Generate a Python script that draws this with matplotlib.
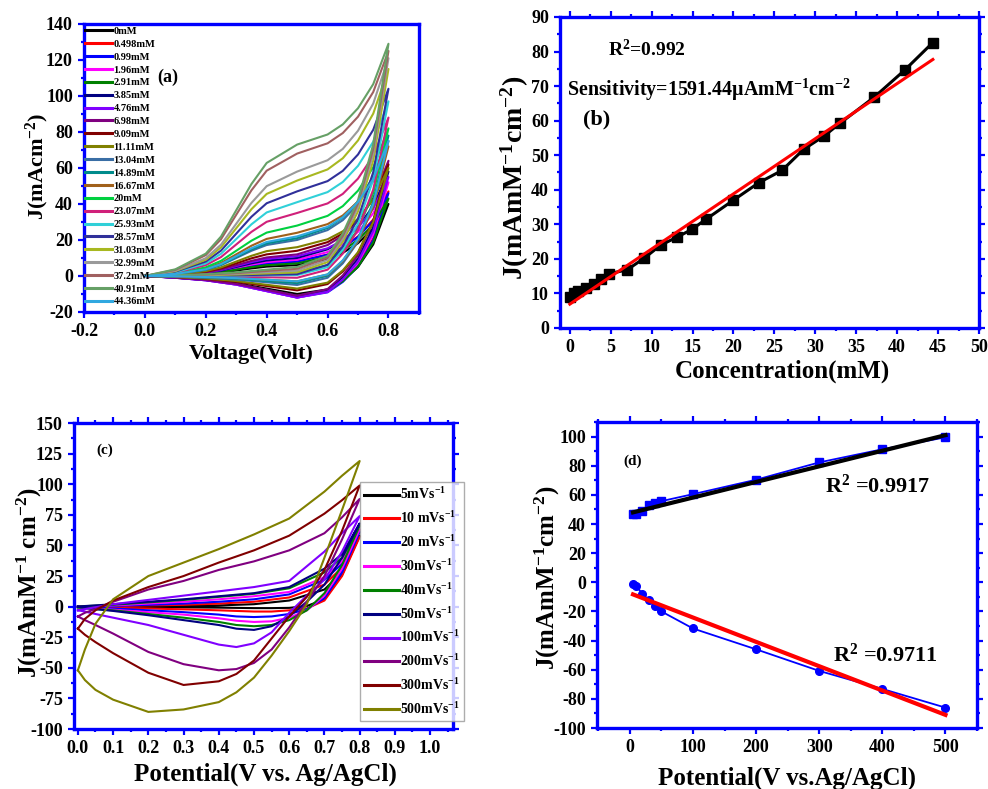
import matplotlib
matplotlib.use("Agg")
import matplotlib.pyplot as plt
from matplotlib.ticker import MultipleLocator

plt.rcParams["font.family"] = ["Liberation Serif", "DejaVu Serif"]
plt.rcParams["font.weight"] = "bold"
plt.rcParams["mathtext.default"] = "regular"
plt.rcParams["axes.unicode_minus"] = False

# ---------------------------------------------------------------------------
# (a) CV curves at different glucose concentrations
# ---------------------------------------------------------------------------
CONC_LABELS = ["0mM", "0.498mM", "0.99mM", "1.96mM", "2.91mM", "3.85mM", "4.76mM",
               "6.98mM", "9.09mM", "11.11mM", "13.04mM", "14.89mM", "16.67mM", "20mM",
               "23.07mM", "25.93mM", "28.57mM", "31.03mM", "32.99mM", "37.2mM",
               "40.91mM", "44.36mM"]
CONC_COLORS = ["#000000", "#ff0000", "#0000ff", "#ff00ff", "#008000", "#000080",
               "#8000ff", "#800080", "#800000", "#808000", "#3a6ea5", "#008b8b",
               "#a0601a", "#00d040", "#d0207a", "#30d0d8", "#30309a", "#a8b820",
               "#9a9a9a", "#a06060", "#66a066", "#30a8e0"]

A_V_FWD = [0, 0.1, 0.2, 0.25, 0.3, 0.35, 0.4, 0.5, 0.6, 0.65, 0.7, 0.75, 0.8]
A_V_REV = [0.8, 0.75, 0.7, 0.65, 0.6, 0.5, 0.4, 0.3, 0.2, 0.1, 0]

A_J_FWD = [
    [0, 0.3, 1.0, 1.8, 3.0, 4.2, 5.2, 6, 9.4, 12.8, 18.2, 26.4, 40],
    [0, 0.4, 1.4, 2.4, 4.0, 5.6, 6.9, 8, 11.9, 15.8, 22.0, 31.4, 47],
    [0, 0.4, 1.4, 2.4, 4.0, 5.6, 6.9, 8, 11.8, 15.6, 21.7, 30.8, 46],
    [0, 0.5, 1.5, 2.7, 4.5, 6.3, 7.7, 9, 13.3, 17.6, 24.5, 34.8, 52],
    [0, 0.4, 1.2, 2.1, 3.5, 4.9, 6.0, 7, 10.6, 14.2, 20.0, 28.6, 43],
    [0, 0.5, 1.7, 3.0, 5.0, 7.0, 8.6, 10, 14.8, 19.6, 27.3, 38.8, 58],
    [0, 0.6, 1.9, 3.3, 5.5, 7.7, 9.5, 11, 15.4, 19.8, 26.8, 37.4, 55],
    [0, 0.6, 2.0, 3.6, 6.0, 8.4, 10.3, 12, 17.2, 22.4, 30.7, 43.2, 64],
    [0, 0.7, 2.4, 4.2, 7.0, 9.8, 12.0, 14, 18.8, 23.6, 31.3, 42.8, 62],
    [0, 0.8, 2.7, 4.8, 8.0, 11.2, 13.8, 16, 20.4, 24.8, 31.8, 42.4, 60],
    [0, 1.0, 3.4, 6.0, 10.0, 14.0, 17.2, 20, 25.5, 31.0, 39.8, 53.0, 75],
    [0, 1.0, 3.6, 6.3, 10.5, 14.7, 18.1, 21, 26.7, 32.4, 41.5, 55.2, 78],
    [0, 1.2, 4.1, 7.2, 12.0, 16.8, 20.6, 24, 28.8, 33.6, 41.3, 52.8, 72],
    [0, 1.4, 4.8, 8.4, 14.0, 19.6, 24.1, 28, 33.4, 38.8, 47.4, 60.4, 82],
    [0, 1.8, 6.0, 10.5, 17.5, 24.5, 30.1, 35, 40.3, 45.6, 54.1, 66.8, 88],
    [0, 2.0, 7.0, 12.3, 20.5, 28.7, 35.3, 41, 46.6, 52.2, 61.2, 74.6, 97],
    [0, 2.4, 8.0, 14.1, 23.5, 32.9, 40.4, 47, 52.7, 58.4, 67.5, 81.2, 104],
    [0, 2.7, 9.0, 15.9, 26.5, 37.1, 45.6, 53, 59.2, 65.4, 75.3, 90.2, 115],
    [0, 2.9, 9.9, 17.4, 29.0, 40.6, 49.9, 58, 64.3, 70.6, 80.7, 95.8, 121],
    [0, 3.4, 11.6, 20.4, 34.0, 47.6, 58.5, 68, 73.7, 79.4, 88.5, 102.2, 125],
    [0, 3.7, 12.4, 21.9, 36.5, 51.1, 62.8, 73, 78.6, 84.2, 93.2, 106.6, 129],
    [0, 1.1, 3.7, 6.6, 11.0, 15.4, 18.9, 22, 27.3, 32.6, 41.1, 53.8, 75],
]
A_J_REV = [
    [40, 17.5, 5.0, -2.5, -7.5, -10, -7.0, -4.0, -2.0, -0.8, 0],
    [47, 20.9, 6.4, -2.3, -8.1, -11, -7.7, -4.4, -2.2, -0.9, 0],
    [46, 19.9, 5.4, -3.3, -9.1, -12, -8.4, -4.8, -2.4, -1.0, 0],
    [52, 23.2, 7.2, -2.4, -8.8, -12, -8.4, -4.8, -2.4, -1.0, 0],
    [43, 18.7, 5.2, -2.9, -8.3, -11, -7.7, -4.4, -2.2, -0.9, 0],
    [58, 27.0, 9.7, -0.7, -7.6, -11, -7.7, -4.4, -2.2, -0.9, 0],
    [55, 24.9, 8.1, -2.0, -8.7, -12, -8.4, -4.8, -2.4, -1.0, 0],
    [64, 30.3, 11.5, 0.3, -7.3, -11, -7.7, -4.4, -2.2, -0.9, 0],
    [62, 30.5, 13.0, 2.5, -4.5, -8, -5.6, -3.2, -1.6, -0.6, 0],
    [60, 29.9, 13.1, 3.1, -3.7, -7, -4.9, -2.8, -1.4, -0.6, 0],
    [75, 39.0, 19.0, 7.0, -1.0, -5, -3.5, -2.0, -1.0, -0.4, 0],
    [78, 41.1, 20.6, 8.3, 0.1, -4, -2.8, -1.6, -0.8, -0.3, 0],
    [72, 38.3, 19.5, 8.3, 0.8, -3, -2.1, -1.2, -0.6, -0.2, 0],
    [82, 46.0, 26.0, 14.0, 6.0, 2, 1.4, 0.8, 0.4, 0.2, 0],
    [88, 48.0, 25.7, 12.4, 3.5, -1, -0.7, -0.4, -0.2, -0.1, 0],
    [97, 53.4, 29.1, 14.6, 4.9, 0.5, 0.4, 0.2, 0.1, 0.0, 0],
    [104, 57.7, 31.9, 16.5, 6.2, 1, 0.7, 0.4, 0.2, 0.1, 0],
    [115, 64.2, 35.9, 19.0, 7.7, 2, 1.4, 0.8, 0.4, 0.2, 0],
    [121, 67.9, 38.4, 20.7, 8.9, 3, 2.1, 1.2, 0.6, 0.2, 0],
    [125, 70.6, 40.3, 22.2, 10.1, 4, 2.8, 1.6, 0.8, 0.3, 0],
    [129, 73.2, 42.2, 23.6, 11.2, 5, 3.5, 2.0, 1.0, 0.4, 0],
    [75, 39.9, 20.4, 8.7, 0.9, -3, -2.1, -1.2, -0.6, -0.2, 0],
]

# ---------------------------------------------------------------------------
# (b) calibration
# ---------------------------------------------------------------------------
B_CONC = [0, 0.498, 0.99, 1.96, 2.91, 3.85, 4.76, 6.98, 9.09, 11.11, 13.04, 14.89,
          16.67, 20, 23.07, 25.93, 28.57, 31.03, 32.99, 37.2, 40.91, 44.36]
B_J = [9.0, 10.0, 10.6, 11.6, 12.6, 14.2, 15.7, 16.8, 20.2, 24.0, 26.2, 28.5,
       31.5, 37.0, 42.0, 45.6, 51.7, 55.5, 59.2, 66.8, 74.6, 82.6]
B_FIT_X = [0, 44.36]
B_FIT_Y = [6.9, 77.7]

# ---------------------------------------------------------------------------
# (c) CV curves at different scan rates
# ---------------------------------------------------------------------------
SCAN_LABELS = ["5mVs$^{-1}$", "10 mVs$^{-1}$", "20 mVs$^{-1}$", "30mVs$^{-1}$",
               "40mVs$^{-1}$", "50mVs$^{-1}$", "100mVs$^{-1}$", "200mVs$^{-1}$",
               "300mVs$^{-1}$", "500mVs$^{-1}$"]
SCAN_COLORS = ["#000000", "#ff0000", "#0000ff", "#ff00ff", "#008000", "#000080",
               "#8000ff", "#800080", "#800000", "#808000"]

C_V_FWD = [0, 0.02, 0.05, 0.1, 0.2, 0.3, 0.4, 0.5, 0.6, 0.7, 0.75, 0.8]
C_V_REV = [0.8, 0.75, 0.7, 0.65, 0.6, 0.55, 0.5, 0.45, 0.4, 0.3, 0.2, 0.1, 0.05, 0.02, 0]

C_J_FWD = [
    [0, 0, 0, 0, 0.3, 0.5, 1.0, 2.0, 5.0, 14, 28, 58],
    [0, 0.1, 0.2, 0.3, 1.0, 1.5, 2.5, 4.0, 7.5, 18, 32, 57],
    [0, 0.2, 0.4, 0.6, 1.5, 2.5, 4.0, 6.0, 10, 22, 35, 61],
    [0, 0.3, 0.6, 1.0, 2.5, 4.0, 6.0, 8.5, 12, 24, 37, 63],
    [0, 0.4, 0.8, 1.5, 3.5, 5.5, 8.0, 10.5, 15, 28, 40, 66],
    [0, 0.5, 1.0, 2.0, 4.0, 6.0, 8.5, 11, 16, 31, 43, 68],
    [-3, -2, -0.5, 2, 5.5, 9, 12.5, 16, 21, 45, 60, 74],
    [-8, -5, -2, 4, 14, 21, 30, 37, 46, 60, 73, 88],
    [-18, -10, -3, 5, 16, 25, 36, 46, 58, 76, 87, 99],
    [-52, -35, -14, 6, 25, 36, 47, 59, 72, 94, 107, 119],
]
C_J_REV = [
    [58, 26, 6, 0.5, -1, -1.2, -1.2, -1, -0.8, -0.6, -0.4, -0.2, -0.1, 0, 0],
    [57, 25, 5, -1.5, -3, -4, -4, -3.5, -3, -2.2, -1.5, -1, -0.6, -0.4, -0.3],
    [61, 28, 7, -2, -6, -8, -8.5, -8, -6.5, -4.5, -3, -1.5, -1, -0.6, -0.4],
    [63, 31, 9, -3, -9, -12, -12.5, -11.5, -9.5, -6.5, -4.5, -2.5, -1.5, -1, -0.6],
    [66, 34, 11, -3, -11, -15, -16, -15, -12.5, -9, -6, -3, -2, -1.2, -0.8],
    [68, 40, 18, 4, -8, -16, -19, -18, -15, -11, -7, -3.5, -2, -1, 0],
    [74, 45, 22, 9, -5, -21, -30, -33, -31, -23, -15, -9, -6, -4, -3],
    [88, 55, 25, 4, -17, -35, -46, -51, -52, -47, -37, -22, -15, -11, -8],
    [99, 62, 30, 8, -8, -26, -44, -55, -61, -64, -54, -38, -29, -23, -18],
    [119, 79, 40, 2, -20, -40, -58, -70, -78, -84, -86, -76, -68, -60, -52],
]

# ---------------------------------------------------------------------------
# (d) peak current vs scan rate
# ---------------------------------------------------------------------------
D_RATE = [5, 10, 20, 30, 40, 50, 100, 200, 300, 400, 500]
D_ANODIC = [46.6, 47.0, 48.9, 53.4, 54.6, 55.7, 60.5, 70.4, 82.3, 91.3, 99.5]
D_CATHODIC = [-1.1, -2.8, -7.8, -12.4, -16.5, -20.0, -31.7, -46.0, -60.8, -73.2, -86.0]
D_FIT_X = [5, 500]
D_FIT_ANODIC = [48.0, 101.0]
D_FIT_CATHODIC = [-8.3, -91.0]

BLUE = "#0000ff"


def style_axes(ax, all_sides=True):
    for sp in ax.spines.values():
        sp.set_color(BLUE)
        sp.set_linewidth(2.4)
    ax.tick_params(which="both", direction="out", color=BLUE, width=1.6,
                   labelsize=13, top=all_sides, right=all_sides,
                   labeltop=False, labelright=False)
    ax.tick_params(which="major", length=4.5)
    ax.tick_params(which="minor", length=2.5)
    for lab in ax.get_xticklabels() + ax.get_yticklabels():
        lab.set_fontweight("bold")


fig = plt.figure(figsize=(9.88, 7.89), dpi=100)

# ---- (a) ----
ax = fig.add_axes([0.085, 0.6046, 0.339, 0.365])
for i in range(len(CONC_LABELS)):
    ax.plot(A_V_FWD + A_V_REV, A_J_FWD[i] + A_J_REV[i], color=CONC_COLORS[i],
            lw=1.5, label=CONC_LABELS[i])
ax.set_xlim(-0.2, 0.9)
ax.set_ylim(-20, 140)
ax.xaxis.set_major_locator(MultipleLocator(0.2))
ax.xaxis.set_minor_locator(MultipleLocator(0.1))
ax.yaxis.set_major_locator(MultipleLocator(20))
ax.yaxis.set_minor_locator(MultipleLocator(10))
style_axes(ax, all_sides=False)
ax.set_xlabel("Voltage(Volt)", fontsize=16, fontweight="bold")
ax.set_ylabel("J(mAcm$^{-2}$)", fontsize=16, fontweight="bold")
ax.xaxis.set_label_coords(0.498, -0.11)
ax.yaxis.set_label_coords(-0.097, 0.507)
ax.text(0.22, 0.8, "(a)", transform=ax.transAxes, fontsize=13, fontweight="bold")
leg = ax.legend(loc="upper left", bbox_to_anchor=(-0.005, 1.0), frameon=False,
                fontsize=7.5, handlelength=2.6, handletextpad=0.15,
                labelspacing=0.345, borderpad=0.15, borderaxespad=0.1)
for line in leg.get_lines():
    line.set_linewidth(2.2)

# ---- (b) ----
ax = fig.add_axes([0.5668, 0.5843, 0.4241, 0.3942])
ax.plot(B_CONC, B_J, color="black", lw=2.2, marker="s", markersize=6.5)
ax.plot(B_FIT_X, B_FIT_Y, color="#ff0000", lw=2.2)
ax.set_xlim(-1.2, 50)
ax.set_ylim(0, 90)
ax.xaxis.set_major_locator(MultipleLocator(5))
ax.xaxis.set_minor_locator(MultipleLocator(2.5))
ax.yaxis.set_major_locator(MultipleLocator(10))
ax.yaxis.set_minor_locator(MultipleLocator(5))
style_axes(ax)
ax.set_xlabel("Concentration(mM)", fontsize=18, fontweight="bold")
ax.set_ylabel("J(mAmM$^{-1}$cm$^{-2}$)", fontsize=20, fontweight="bold")
ax.xaxis.set_label_coords(0.531, -0.103)
ax.yaxis.set_label_coords(-0.07, 0.482)
ax.text(0.115, 0.875, "R$^{2}$=0.992", transform=ax.transAxes, fontsize=14,
        fontweight="bold")
ax.text(0.016, 0.745, "Sensitivity=1591.44\u00b5AmM$^{-1}$cm$^{-2}$",
        transform=ax.transAxes, fontsize=14.4, fontweight="bold")
ax.text(0.055, 0.655, "(b)", transform=ax.transAxes, fontsize=16, fontweight="bold")

# ---- (c) ----
ax = fig.add_axes([0.0749, 0.0760, 0.3836, 0.3878])
for i in range(len(SCAN_LABELS)):
    ax.plot(C_V_FWD + C_V_REV, C_J_FWD[i] + C_J_REV[i], color=SCAN_COLORS[i],
            lw=1.5, label=SCAN_LABELS[i])
ax.set_xlim(-0.011, 1.065)
ax.set_ylim(-100, 150)
ax.xaxis.set_major_locator(MultipleLocator(0.1))
ax.xaxis.set_minor_locator(MultipleLocator(0.05))
ax.yaxis.set_major_locator(MultipleLocator(25))
ax.yaxis.set_minor_locator(MultipleLocator(12.5))
style_axes(ax)
ax.set_xlabel("Potential(V vs. Ag/AgCl)", fontsize=18, fontweight="bold")
ax.set_ylabel("J(mAmM$^{-1}$ cm$^{-2}$)", fontsize=18, fontweight="bold")
ax.xaxis.set_label_coords(0.504, -0.108)
ax.yaxis.set_label_coords(-0.08, 0.477)
ax.text(0.06, 0.9, "(c)", transform=ax.transAxes, fontsize=11, fontweight="bold")
leg = ax.legend(loc="upper left", bbox_to_anchor=(0.755, 0.806), frameon=True,
                fontsize=10, handlelength=2.5, handletextpad=0.1,
                labelspacing=0.57, borderpad=0.3, borderaxespad=0, fancybox=False)
leg.get_frame().set_edgecolor("#999999")
leg.get_frame().set_linewidth(1.0)
for line in leg.get_lines():
    line.set_linewidth(2.2)

# ---- (d) ----
ax = fig.add_axes([0.6043, 0.0773, 0.3846, 0.3878])
ax.plot(D_RATE, D_ANODIC, color=BLUE, lw=1.3, marker="s", markersize=5.5)
ax.plot(D_RATE, D_CATHODIC, color=BLUE, lw=1.3, marker="o", markersize=5.5)
ax.plot(D_FIT_X, D_FIT_ANODIC, color="black", lw=3.0)
ax.plot(D_FIT_X, D_FIT_CATHODIC, color="#ff0000", lw=3.0)
ax.set_xlim(-52, 550)
ax.set_ylim(-100, 110)
ax.xaxis.set_major_locator(MultipleLocator(100))
ax.xaxis.set_minor_locator(MultipleLocator(50))
ax.yaxis.set_major_locator(MultipleLocator(20))
ax.yaxis.set_minor_locator(MultipleLocator(10))
style_axes(ax)
ax.set_xlabel("Potential(V vs.Ag/AgCl)", fontsize=18, fontweight="bold")
ax.set_ylabel("J(mAmM$^{-1}$cm$^{-2}$)", fontsize=18, fontweight="bold")
ax.xaxis.set_label_coords(0.501, -0.127)
ax.yaxis.set_label_coords(-0.092, 0.49)
ax.text(0.07, 0.86, "(d)", transform=ax.transAxes, fontsize=11, fontweight="bold")
ax.text(0.6, 0.77, "R$^{2}$ =0.9917", transform=ax.transAxes, fontsize=16,
        fontweight="bold")
ax.text(0.62, 0.215, "R$^{2}$ =0.9711", transform=ax.transAxes, fontsize=16,
        fontweight="bold")

fig.savefig("out.png", dpi=100)
